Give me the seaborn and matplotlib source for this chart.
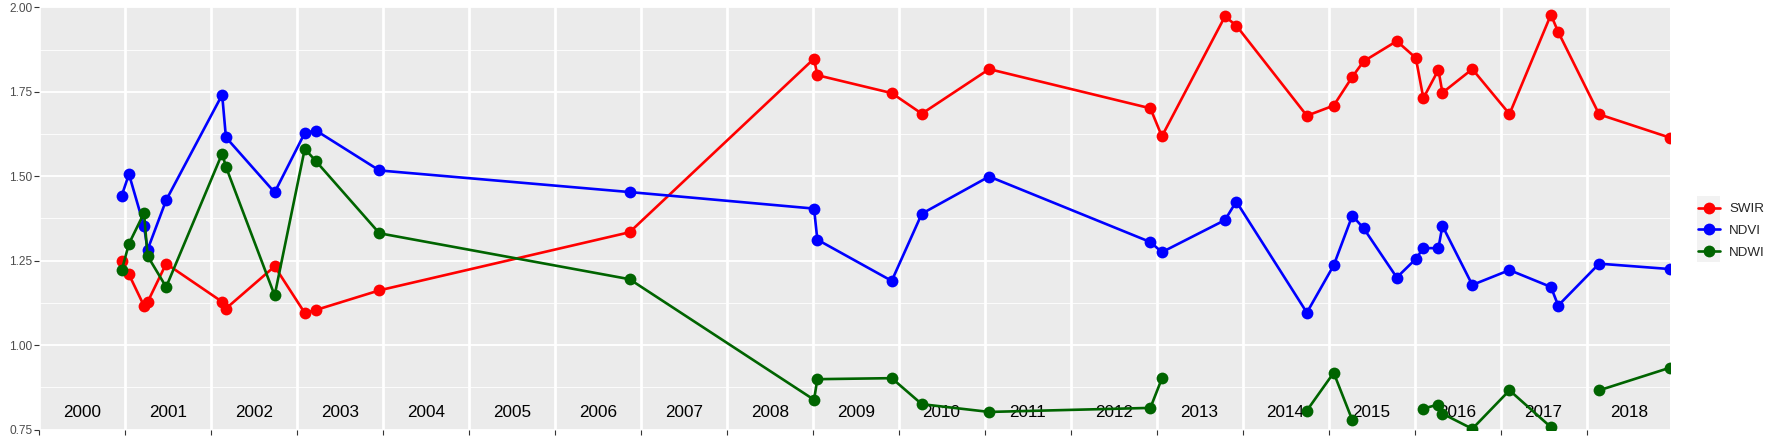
import numpy as np
import pandas as pd
import seaborn as sns
import matplotlib.pyplot as plt
import matplotlib.dates as mdates
from matplotlib.lines import Line2D
from matplotlib.patches import Rectangle
from matplotlib.ticker import FormatStrFormatter, MultipleLocator

# acquisition dates and index values (NaN = outside the 0.75-2.00 window)
dates = ["2000-12-16", "2001-01-16", "2001-03-21", "2001-04-05", "2001-06-23",
         "2002-02-16", "2002-03-04", "2002-09-27", "2003-02-02", "2003-03-22",
         "2003-12-16", "2006-11-13", "2009-01-05", "2009-01-19", "2009-12-01",
         "2010-04-08", "2011-01-19", "2012-12-04", "2013-01-22", "2013-10-17",
         "2013-12-04", "2014-09-30", "2015-01-22", "2015-04-11", "2015-05-29",
         "2015-10-17", "2016-01-06", "2016-02-07", "2016-04-11", "2016-04-28",
         "2016-09-02", "2017-02-07", "2017-08-02", "2017-09-02", "2018-02-23",
         "2018-12-21"]

swir = [1.249, 1.209, 1.116, 1.127, 1.241, 1.128, 1.108, 1.233, 1.095, 1.104,
        1.162, 1.334, 1.848, 1.799, 1.746, 1.685, 1.817, 1.701, 1.618, 1.973,
        1.946, 1.679, 1.709, 1.794, 1.840, 1.900, 1.850, 1.731, 1.815, 1.747,
        1.817, 1.684, 1.978, 1.927, 1.683, 1.614]

ndvi = [1.442, 1.506, 1.352, 1.282, 1.429, 1.741, 1.615, 1.452, 1.628, 1.635,
        1.517, 1.453, 1.404, 1.312, 1.190, 1.389, 1.499, 1.305, 1.275, 1.370,
        1.425, 1.096, 1.236, 1.383, 1.346, 1.200, 1.255, 1.287, 1.287, 1.353,
        1.178, 1.222, 1.172, 1.117, 1.241, 1.225]

ndwi = [1.221, 1.300, 1.391, 1.264, 1.172, 1.567, 1.528, 1.147, 1.581, 1.544,
        1.331, 1.195, 0.838, 0.899, 0.902, 0.825, 0.802, 0.814, 0.901, np.nan,
        np.nan, 0.806, 0.918, 0.778, np.nan, np.nan, np.nan, 0.812, 0.824, 0.797,
        0.752, 0.866, 0.757, np.nan, 0.866, 0.933]

year_labels = list(range(2000, 2019))
series_names = ["SWIR", "NDVI", "NDWI"]
colors = ["#FF0000", "#0000FF", "#006400"]

df = pd.DataFrame({"date": pd.to_datetime(dates), "SWIR": swir, "NDVI": ndvi, "NDWI": ndwi})
long = df.melt(id_vars="date", var_name="index", value_name="value")
# segment ids so missing values break the line like ggplot does
long["seg"] = long.groupby("index")["value"].transform(lambda s: s.isna().cumsum())
long = long.dropna()

sns.set_style("darkgrid", {"axes.facecolor": "#EBEBEB", "grid.color": "white"})
plt.rcParams["font.family"] = ["Liberation Sans", "DejaVu Sans"]

fig, ax = plt.subplots(figsize=(17.73, 4.42), dpi=100)
fig.subplots_adjust(left=39.3 / 1773, right=1670 / 1773, bottom=1 - 429.5 / 442, top=1 - 7.3 / 442)

sns.lineplot(data=long, x="date", y="value", hue="index", units="seg", estimator=None,
             hue_order=series_names, palette=colors, marker="o", markersize=8.5,
             markeredgewidth=0, linewidth=1.9, legend=False, ax=ax, zorder=3)

for y in year_labels:
    ax.text(pd.Timestamp(f"{y}-07-01"), 0.80, str(y), ha="center", va="center",
            fontsize=12.3, color="black", zorder=1.5)

ax.set_xlim(pd.Timestamp("2000-01-01"), df["date"].max())
ax.set_ylim(0.75, 2.0)
ax.xaxis.set_major_locator(mdates.YearLocator())
ax.yaxis.set_major_locator(MultipleLocator(0.25))
ax.yaxis.set_minor_locator(MultipleLocator(0.125))
ax.yaxis.set_major_formatter(FormatStrFormatter("%.2f"))
ax.tick_params(axis="x", labelbottom=False)
ax.tick_params(axis="both", which="major", length=3.5, width=0.8, color="#333333",
               labelcolor="#4D4D4D", labelsize=8.6, pad=1.5, bottom=True, left=True)
ax.tick_params(axis="both", which="minor", length=0)
ax.grid(False)
ax.grid(True, which="major", axis="y", color="white", linewidth=1.3)
ax.grid(True, which="minor", axis="y", color="white", linewidth=0.6)
ax.grid(True, which="major", axis="x", color="white", linewidth=2.0)
ax.set_axisbelow(True)
ax.set_xlabel("")
ax.set_ylabel("")
for sp in ax.spines.values():
    sp.set_visible(False)

handles = [Line2D([], [], color=c, marker="o", markersize=8.5, markeredgewidth=0, linewidth=1.9)
           for c in colors]
leg = fig.legend(handles, series_names, loc="center left", frameon=False,
                 bbox_to_anchor=(1691 / 1773, 1 - 230.7 / 442), fontsize=9.6,
                 handlelength=1.65, handletextpad=0.7, labelspacing=0.7, borderpad=0)

fig.canvas.draw()
inv = fig.transFigure.inverted()
for h in leg.legend_handles:
    bb = h.get_window_extent(fig.canvas.get_renderer())
    cx, cy = (bb.x0 + bb.x1) / 2, (bb.y0 + bb.y1) / 2
    (x0, y0), (x1, y1) = inv.transform([(cx - 11.5, cy - 11.5), (cx + 11.5, cy + 11.5)])
    fig.add_artist(Rectangle((x0, y0), x1 - x0, y1 - y0, transform=fig.transFigure,
                             facecolor="#F2F2F2", edgecolor="none", zorder=0.5))

fig.savefig("out.png", dpi=100)
